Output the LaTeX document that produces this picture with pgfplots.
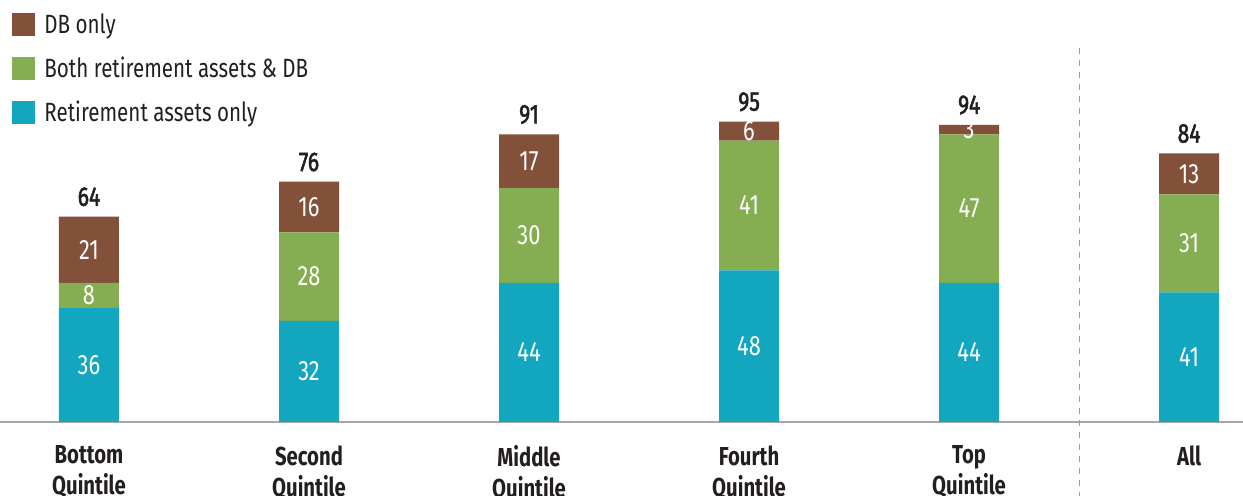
\documentclass[border=0pt]{standalone}
\usepackage{pgfplots}
\pgfplotsset{compat=1.18}
\usepackage{fontspec}
\setmainfont{Fira Sans}[FakeStretch=0.78]
\newfontfamily\medf{Fira Sans}[FakeStretch=0.78, FakeBold=2]
\definecolor{cteal}{HTML}{12A6BF}
\definecolor{cgreen}{HTML}{85AD51}
\definecolor{cbrown}{HTML}{83503A}
\definecolor{ctext}{HTML}{231F20}
\pgfplotsset{
  inlbl/.style={
    nodes near coords,
    nodes near coords style={anchor=center, text=white, font=\fontsize{14}{15}\selectfont},
  }
}
\begin{document}
\begin{tikzpicture}
\begin{axis}[
  name=ax,
  scale only axis, width=621.5pt, height=211pt,
  ybar stacked, bar width=30pt,
  xmin=-0.4045, xmax=5.245, ymin=0, ymax=133.5,
  /pgf/number format/assume math mode=true,
  axis y line=none, axis x line=bottom,
  x axis line style={-, draw=gray!70, line width=0.6pt},
  xtick={0,1,2,3,4,5},
  xticklabels={{Bottom\\Quintile},{Second\\Quintile},{Middle\\Quintile},{Fourth\\Quintile},{Top\\Quintile},{All}},
  xticklabel style={align=center, text=ctext, font=\fontsize{13}{15.5}\selectfont\bfseries, inner sep=0pt, yshift=-11.5pt},
  major tick length=0pt,
  clip=false,
  legend style={at={(0,1)}, anchor=north west, draw=none, fill=none, xshift=6pt, yshift=-4.5pt,
    font=\fontsize{13.2}{14}\selectfont, text=ctext, row sep=6.3pt, inner sep=0pt,
    /tikz/every odd column/.append style={column sep=2.5pt}},
  legend cell align=left,
  legend image code/.code={\fill[#1] (0pt,-5.75pt) rectangle (11.5pt,5.75pt);},
  reverse legend,
]
\addplot[fill=cteal, draw=none, inlbl] coordinates {(0,36) (1,32) (2,44) (3,48) (4,44) (5,41)};
\addlegendentry{Retirement assets only}
\addplot[fill=cgreen, draw=none, inlbl] coordinates {(0,8) (1,28) (2,30) (3,41) (4,47) (5,31)};
\addlegendentry{Both retirement assets \& DB}
\addplot[fill=cbrown, draw=none, inlbl] coordinates {(0,21) (1,16) (2,17) (3,6) (4,3) (5,13)};
\addlegendentry{DB only}
\draw[dashed, gray!80, line width=0.5pt] (axis cs:4.5,118.4) -- (axis cs:4.5,-23.4);
\end{axis}
\begin{axis}[
  scale only axis, width=621.5pt, height=211pt,
  xmin=-0.4045, xmax=5.245, ymin=0, ymax=133.5,
  hide axis, clip=false,
]
\addplot[draw=none, mark=none, point meta=explicit symbolic, nodes near coords,
  nodes near coords style={anchor=south, text=ctext, font=\fontsize{13.5}{14}\selectfont\medf, inner sep=2pt, yshift=3pt}]
  coordinates {(0,65) [64] (1,76) [76] (2,91) [91] (3,95) [95] (4,94) [94] (5,85) [84]};
\end{axis}
\pgfresetboundingbox
\path[use as bounding box] ([yshift=-37pt]ax.south west) rectangle (ax.north east);
\end{tikzpicture}
\end{document}
